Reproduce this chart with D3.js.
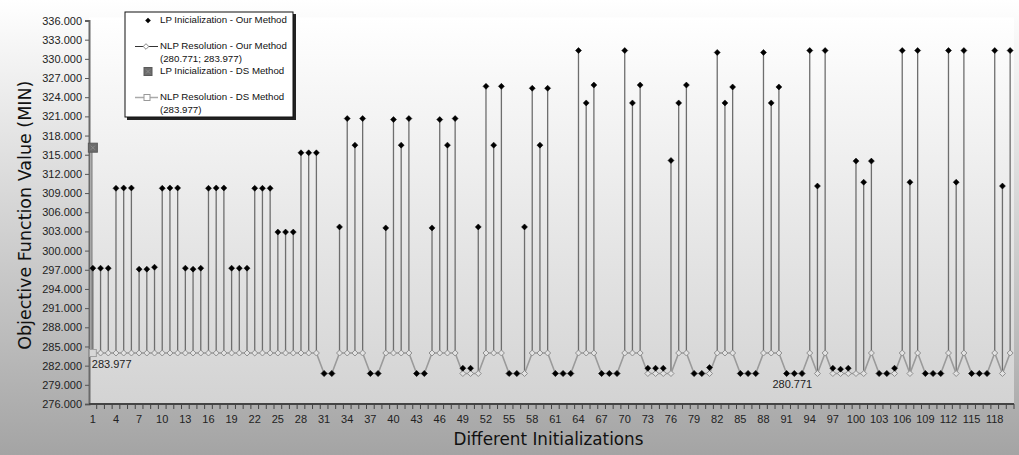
<!DOCTYPE html>
<html>
<head>
<meta charset="utf-8">
<script src="https://cdn.jsdelivr.net/npm/d3@7"></script>
<style>
  body { margin: 0; background: #fff; }
  svg { display: block; }
</style>
</head>
<body>
<svg id="chart" width="1019" height="455"></svg>
<script>
// LP initialization values (our method), initializations 1..120
const lpOur = [
  297.25, 297.25, 297.25, 309.75, 309.8, 309.8, 297.1, 297.1, 297.4, 309.75,
  309.8, 309.8, 297.25, 297.1, 297.25, 309.75, 309.8, 309.8, 297.25, 297.25,
  297.25, 309.75, 309.75, 309.75, 302.9, 302.9, 302.9, 315.3, 315.3, 315.3,
  280.771, 280.771, 303.7, 320.66, 316.5, 320.66, 280.771, 280.771, 303.55, 320.5,
  316.5, 320.66, 280.771, 280.771, 303.55, 320.5, 316.5, 320.66, 281.6, 281.6,
  303.7, 325.7, 316.5, 325.7, 280.771, 280.771, 303.7, 325.4, 316.5, 325.4,
  280.771, 280.771, 280.771, 331.3, 323.1, 325.9, 280.771, 280.771, 280.771, 331.3,
  323.1, 325.9, 281.6, 281.6, 281.6, 314.1, 323.1, 325.9, 280.771, 280.771,
  281.7, 331.0, 323.1, 325.6, 280.771, 280.771, 280.771, 331.0, 323.1, 325.6,
  280.771, 280.771, 280.771, 331.3, 310.1, 331.3, 281.6, 281.45, 281.6, 314.0,
  310.7, 314.0, 280.771, 280.771, 281.6, 331.3, 310.7, 331.3, 280.771, 280.771,
  280.771, 331.3, 310.7, 331.3, 280.771, 280.771, 280.771, 331.3, 310.1, 331.3
];

// NLP resolution values (our method)
const nlpOur = [
  283.977, 283.977, 283.977, 283.977, 283.977, 283.977, 283.977, 283.977, 283.977, 283.977,
  283.977, 283.977, 283.977, 283.977, 283.977, 283.977, 283.977, 283.977, 283.977, 283.977,
  283.977, 283.977, 283.977, 283.977, 283.977, 283.977, 283.977, 283.977, 283.977, 283.977,
  280.771, 280.771, 283.977, 283.977, 283.977, 283.977, 280.771, 280.771, 283.977, 283.977,
  283.977, 283.977, 280.771, 280.771, 283.977, 283.977, 283.977, 283.977, 280.771, 280.771,
  280.771, 283.977, 283.977, 283.977, 280.771, 280.771, 280.771, 283.977, 283.977, 283.977,
  280.771, 280.771, 280.771, 283.977, 283.977, 283.977, 280.771, 280.771, 280.771, 283.977,
  283.977, 283.977, 280.771, 280.771, 280.771, 280.771, 283.977, 283.977, 280.771, 280.771,
  280.771, 283.977, 283.977, 283.977, 280.771, 280.771, 280.771, 283.977, 283.977, 283.977,
  280.771, 280.771, 280.771, 283.977, 280.771, 283.977, 280.771, 280.771, 280.771, 280.771,
  280.771, 283.977, 280.771, 280.771, 280.771, 283.977, 280.771, 283.977, 280.771, 280.771,
  280.771, 283.977, 280.771, 283.977, 280.771, 280.771, 280.771, 283.977, 280.771, 283.977
];

// DS method (only the first initialization)
const lpDS = [{ init: 1, value: 316.1 }];
const nlpDS = [{ init: 1, value: 283.977 }];

// data labels on the NLP line
const nlpLabels = [
  { init: 1, text: "283.977", anchor: "start" },
  { init: 92, text: "280.771", anchor: "middle" }
];

const yMin = 276, yMax = 336, yStep = 3;

const legendItems = [
  { kind: "dot", lines: ["LP Inicialization - Our Method"] },
  { kind: "diamondLine", lines: ["NLP Resolution - Our Method", "(280.771; 283.977)"] },
  { kind: "square", lines: ["LP Inicialization - DS Method"] },
  { kind: "squareLine", lines: ["NLP Resolution - DS Method", "(283.977)"] }
];

const W = 1019, H = 455;
const plot = { left: 89, right: 1014, top: 20.5, bottom: 404 };

const svg = d3.select("#chart");
const defs = svg.append("defs");

const bgGrad = defs.append("linearGradient").attr("id", "bgGrad")
  .attr("x1", 0).attr("y1", 0).attr("x2", 0).attr("y2", 1);
bgGrad.append("stop").attr("offset", "0%").attr("stop-color", "#ffffff");
bgGrad.append("stop").attr("offset", "100%").attr("stop-color", "#a4a4a4");

const plotGrad = defs.append("linearGradient").attr("id", "plotGrad")
  .attr("x1", 0).attr("y1", 0).attr("x2", 0).attr("y2", 1);
plotGrad.append("stop").attr("offset", "0%").attr("stop-color", "#ffffff");
plotGrad.append("stop").attr("offset", "100%").attr("stop-color", "#d3d3d3");

svg.append("rect").attr("width", W).attr("height", H).attr("fill", "url(#bgGrad)");
svg.append("rect")
  .attr("x", plot.left).attr("y", plot.top - 3)
  .attr("width", plot.right - plot.left).attr("height", plot.bottom - plot.top + 3)
  .attr("fill", "url(#plotGrad)");

const inits = d3.range(1, lpOur.length + 1);
const data = inits.map((d, i) => ({ init: d, lp: lpOur[i], nlp: nlpOur[i] }));

const xScale = d3.scaleBand().domain(inits).range([plot.left, plot.right]).padding(0);
const cx = d => xScale(d) + xScale.bandwidth() / 2;
const yScale = d3.scaleLinear().domain([yMin, yMax]).range([plot.bottom, plot.top]);

// symmetric diamond like the spreadsheet markers
const diamondPath = r => `M0,${-r}L${r},0L0,${r}L${-r},0Z`;

// y axis
const yAxis = svg.append("g")
  .attr("transform", `translate(${plot.left},0)`)
  .call(d3.axisLeft(yScale)
    .tickValues(d3.range(yMin, yMax + 0.001, yStep))
    .tickFormat(d3.format(".3f"))
    .tickSize(4)
    .tickPadding(3));
yAxis.select(".domain").attr("stroke", "#6a6a6a").attr("stroke-width", 2);
yAxis.selectAll(".tick line").attr("stroke", "#555");
yAxis.selectAll("text")
  .attr("font-family", "Liberation Sans, Arial, sans-serif")
  .attr("font-size", 11).attr("fill", "#222");

// x axis: ticks on category boundaries, labels every third category
const xAxis = svg.append("g").attr("transform", `translate(0,${plot.bottom})`);
xAxis.append("line")
  .attr("x1", plot.left).attr("x2", plot.right)
  .attr("stroke", "#444").attr("stroke-width", 2);
xAxis.selectAll(".xtick")
  .data(inits)
  .enter()
  .append("line")
  .attr("class", "xtick")
  .attr("x1", d => xScale(d) + xScale.bandwidth())
  .attr("x2", d => xScale(d) + xScale.bandwidth())
  .attr("y1", 0).attr("y2", 5)
  .attr("stroke", "#444");
xAxis.selectAll(".xlabel")
  .data(inits.filter(d => (d - 1) % 3 === 0))
  .enter()
  .append("text")
  .attr("x", d => cx(d))
  .attr("y", 19)
  .attr("text-anchor", "middle")
  .attr("font-family", "Liberation Sans, Arial, sans-serif")
  .attr("font-size", 11).attr("fill", "#222")
  .text(d => d);

// axis titles
svg.append("text")
  .attr("transform", `translate(26,${(plot.top + plot.bottom) / 2 + 3}) rotate(-90)`)
  .attr("text-anchor", "middle")
  .attr("dominant-baseline", "middle")
  .attr("font-family", "Comic Sans MS, DejaVu Sans, sans-serif")
  .attr("font-size", 17.5).attr("fill", "#111")
  .text("Objective Function Value (MIN)");

svg.append("text")
  .attr("x", (plot.left + plot.right) / 2 - 3)
  .attr("y", 440)
  .attr("text-anchor", "middle")
  .attr("dominant-baseline", "middle")
  .attr("font-family", "Comic Sans MS, DejaVu Sans, sans-serif")
  .attr("font-size", 16.8).attr("fill", "#111")
  .text("Different Initializations");

// DS drop line
svg.selectAll(".dsdrop")
  .data(lpDS)
  .enter()
  .append("line")
  .attr("x1", d => cx(d.init) - 1).attr("x2", d => cx(d.init) - 1)
  .attr("y1", d => yScale(d.value)).attr("y2", yScale(nlpDS[0].value))
  .attr("stroke", "#8a8a8a").attr("stroke-width", 1.5);

// drop lines from LP to NLP
svg.selectAll(".drop")
  .data(data.filter(d => Math.abs(d.lp - d.nlp) > 0.05))
  .enter()
  .append("line")
  .attr("class", "drop")
  .attr("x1", d => cx(d.init)).attr("x2", d => cx(d.init))
  .attr("y1", d => yScale(d.lp)).attr("y2", d => yScale(d.nlp))
  .attr("stroke", "#6e6e6e").attr("stroke-width", 1.3);

// NLP line
const line = d3.line().x(d => cx(d.init)).y(d => yScale(d.nlp));
svg.append("path")
  .datum(data)
  .attr("d", line)
  .attr("fill", "none")
  .attr("stroke", "#9a9a9a").attr("stroke-width", 1.6);

// NLP markers
svg.selectAll(".nlpm")
  .data(data)
  .enter()
  .append("path")
  .attr("transform", d => `translate(${cx(d.init)},${yScale(d.nlp)})`)
  .attr("d", diamondPath(3))
  .attr("fill", "#e2e2e2").attr("stroke", "#8e8e8e").attr("stroke-width", 1);

// DS NLP marker
svg.selectAll(".nlpds")
  .data(nlpDS)
  .enter()
  .append("rect")
  .attr("x", d => cx(d.init) - 3.5).attr("y", d => yScale(d.value) - 3.5)
  .attr("width", 7).attr("height", 7)
  .attr("fill", "#d8d8d8").attr("stroke", "#a0a0a0");

// LP markers
svg.selectAll(".lpm")
  .data(data)
  .enter()
  .append("path")
  .attr("transform", d => `translate(${cx(d.init)},${yScale(d.lp)})`)
  .attr("d", diamondPath(3))
  .attr("fill", "#000").attr("stroke", "#000").attr("stroke-width", 0.5)
  .attr("stroke-linejoin", "round");

// DS LP marker
const dsSq = svg.selectAll(".lpds")
  .data(lpDS)
  .enter()
  .append("g")
  .attr("transform", d => `translate(${cx(d.init)},${yScale(d.value)})`);
dsSq.append("rect").attr("x", -4.5).attr("y", -4.5).attr("width", 9).attr("height", 9)
  .attr("fill", "#6c6c6c").attr("stroke", "#5a5a5a");
dsSq.append("path").attr("d", "M-2,-2L2,2M-2,2L2,-2").attr("stroke", "#8c8c8c");

// data labels
svg.selectAll(".nlplab")
  .data(nlpLabels)
  .enter()
  .append("text")
  .attr("x", d => d.anchor === "start" ? cx(d.init) - 1 : cx(d.init) - 2)
  .attr("y", d => yScale(nlpOur[d.init - 1]) + 12)
  .attr("text-anchor", d => d.anchor)
  .attr("dominant-baseline", "middle")
  .attr("font-family", "Liberation Sans, Arial, sans-serif")
  .attr("font-size", 11).attr("fill", "#222")
  .text(d => d.text);

// legend
const lg = svg.append("g").attr("transform", "translate(125,12)");
lg.append("rect").attr("x", 2).attr("y", 2).attr("width", 169).attr("height", 106).attr("fill", "#222");
lg.append("rect").attr("x", 0).attr("y", 0).attr("width", 168).attr("height", 105)
  .attr("fill", "#fff").attr("stroke", "#111").attr("stroke-width", 1);

const rowY = [8.5, 34.5, 59.5, 85.5];
legendItems.forEach((item, i) => {
  const g = lg.append("g").attr("transform", `translate(0,${rowY[i]})`);
  if (item.kind === "dot") {
    g.append("path").attr("transform", "translate(23,0)").attr("d", diamondPath(2.8)).attr("fill", "#000");
  } else if (item.kind === "diamondLine") {
    g.append("line").attr("x1", 10).attr("x2", 33).attr("stroke", "#333").attr("stroke-width", 1);
    g.append("path").attr("transform", "translate(21,0)").attr("d", diamondPath(2.8))
      .attr("fill", "#fff").attr("stroke", "#888");
  } else if (item.kind === "square") {
    g.append("rect").attr("x", 19).attr("y", -4).attr("width", 8).attr("height", 8)
      .attr("fill", "#6c6c6c").attr("stroke", "#5a5a5a");
    g.append("path").attr("d", "M21,-2L25,2M21,2L25,-2").attr("stroke", "#8c8c8c");
  } else {
    g.append("line").attr("x1", 10).attr("x2", 33).attr("stroke", "#aaa").attr("stroke-width", 1.5);
    g.append("rect").attr("x", 19).attr("y", -3).attr("width", 6).attr("height", 6)
      .attr("fill", "#fff").attr("stroke", "#999");
  }
  item.lines.forEach((t, j) => {
    g.append("text")
      .attr("x", 35).attr("y", j * 12.5)
      .attr("dominant-baseline", "middle")
      .attr("font-family", "Liberation Sans, Arial, sans-serif")
      .attr("font-size", 9.7).attr("fill", "#111")
      .text(t);
  });
});
</script>
</body>
</html>
